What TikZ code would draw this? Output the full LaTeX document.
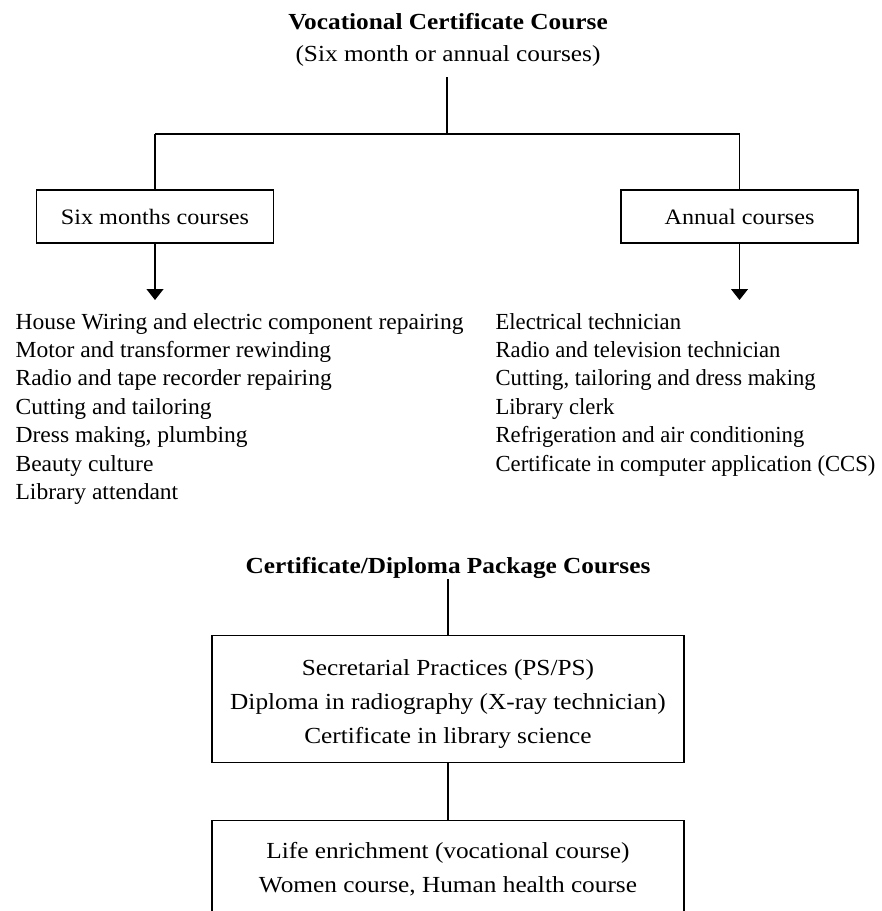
\documentclass[tikz,border=0pt]{standalone}
\usepackage{fontspec}
\setmainfont{Liberation Serif}[FakeStretch=1.1]
\usepackage{graphicx}
\usetikzlibrary{arrows.meta}

% one list of course names, set a little narrow (#1 = horizontal factor)
\newcommand{\courselist}[2]{\scalebox{#1}[1]{\begin{tabular}[t]{@{}l@{}}#2\end{tabular}}}

\begin{document}
\begin{tikzpicture}[x=1pt,y=-1pt,
  line width=1.2pt,
  every node/.style={inner sep=0pt},
  heading/.style={font=\fontsize{23}{33}\selectfont\bfseries},
  plain/.style={font=\fontsize{23}{33}\selectfont},
  branchbox/.style={draw, minimum width=237pt, minimum height=53pt,
    font=\fontsize{22}{28}\selectfont},
  itemlist/.style={anchor=base west, font=\fontsize{23}{28.4}\selectfont},
  packbox/.style={draw, minimum width=472pt, align=center,
    font=\fontsize{23}{34}\selectfont},
  arr/.style={-{Triangle[width=17pt,length=11pt]}}
]
\useasboundingbox (0,0) rectangle (882,911);
\clip (0,0) rectangle (882,911);
\fill[white] (0,0) rectangle (882,911);

% --- vocational certificate courses ---
\node[heading, anchor=base] (title) at (448,29) {Vocational Certificate Course};
\node[plain, anchor=base] (subtitle) at (448,61) {(Six month or annual courses)};

\coordinate (stem) at (447,77);
\coordinate (fork) at (447,134);
\coordinate (forkL) at (155,134);
\coordinate (forkR) at (739.5,134);

\node[branchbox] (six) at (155,216.5) {Six months courses};
\node[branchbox] (annual) at (739.5,216.5) {Annual courses};

\coordinate (sixtip) at (155,300);
\coordinate (annualtip) at (739.5,300);

\draw (stem) -- (fork);
\draw (forkL) -- (forkR);
\draw (forkL) -- (six.north);
\draw (forkR) -- (annual.north);
\draw[arr] (six.south) -- (sixtip);
\draw[arr] (annual.south) -- (annualtip);

\node[itemlist] (sixlist) at (15,329) {\courselist{0.93}{%
House Wiring and electric component repairing\\
Motor and transformer rewinding\\
Radio and tape recorder repairing\\
Cutting and tailoring\\
Dress making, plumbing\\
Beauty culture\\
Library attendant}};

\node[itemlist] (annuallist) at (495,329) {\courselist{0.895}{%
Electrical technician\\
Radio and television technician\\
Cutting, tailoring and dress making\\
Library clerk\\
Refrigeration and air conditioning\\
Certificate in computer application (CCS)}};

% --- package courses ---
\node[heading, anchor=base] (package) at (448,573) {Certificate/Diploma Package Courses};
\coordinate (pstem) at (448,579);

\node[packbox, anchor=north, minimum height=127pt] (pack) at (448,635)
  {\rule{0pt}{25pt}Secretarial Practices (PS/PS)\\
   Diploma in radiography (X-ray technician)\\
   Certificate in library science};

\node[packbox, anchor=north, inner ysep=22pt] (life) at (448,820)
  {Life enrichment (vocational course)\\
   Women course, Human health course};

\draw (pstem) -- (pack.north);
\draw (pack.south) -- (life.north);
\end{tikzpicture}
\end{document}
